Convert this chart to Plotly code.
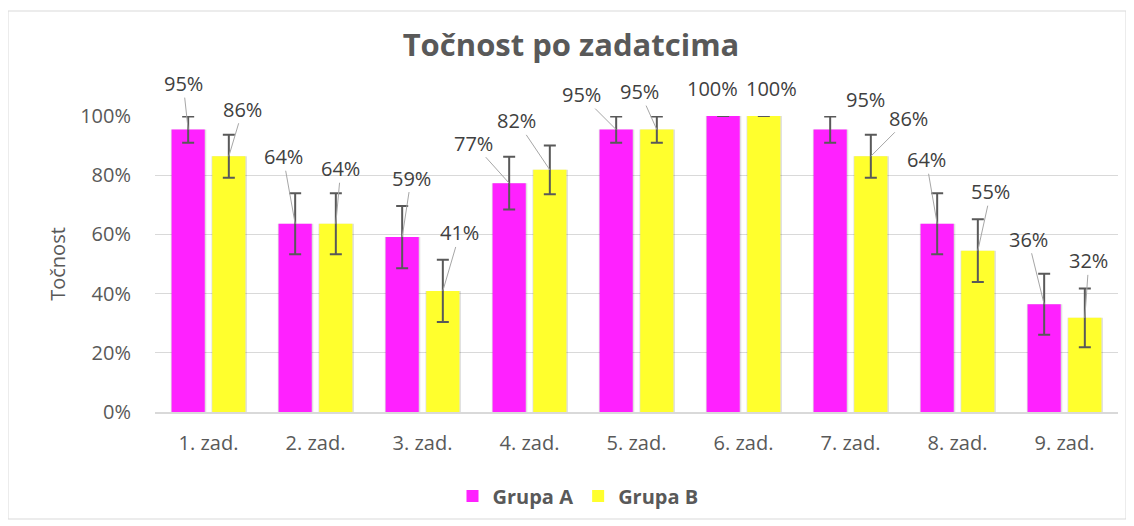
import plotly.graph_objects as go

# ---- data ----
categories = ["1. zad.", "2. zad.", "3. zad.", "4. zad.", "5. zad.", "6. zad.", "7. zad.", "8. zad.", "9. zad."]
grupa_a = [0.954, 0.636, 0.591, 0.773, 0.954, 1.0, 0.954, 0.636, 0.364]
grupa_b = [0.864, 0.636, 0.409, 0.818, 0.954, 1.0, 0.864, 0.545, 0.318]
err_a = [0.044, 0.103, 0.105, 0.089, 0.044, 0.0, 0.044, 0.103, 0.103]
err_b = [0.073, 0.103, 0.105, 0.082, 0.044, 0.0, 0.073, 0.106, 0.099]
y_ticks = [0, 0.2, 0.4, 0.6, 0.8, 1.0]

# ---- styles ----
COL_A = "#FF21FF"
COL_B = "#FFFF2D"
TXT = "#595959"
FONT = "Open Sans"
FS = 20
W, H = 1126, 518  # page body has an 8px margin
BAR_W = 0.31          # bar width in category units
OFF_A, OFF_B = -0.345, 0.035   # left edge of each bar relative to category centre
SH_PAD = 0.022        # shadow extra width (category units)

# label placement offsets (pixels, relative to bar top), and leader-line visibility
lab_a_off = [(-5, -46), (-12, -67), (9, -59), (-36, -40), (-35, -35), (-11, -28), (35, -30), (-11, -64), (-16, -65)]
lab_b_off = [(14, -47), (5, -55), (17, -58), (-33, -49), (-17, -38), (8, -28), (38, -38), (13, -59), (4, -57)]
lead_a = [True, True, True, True, True, False, False, True, True]
lead_b = [True, True, True, True, True, False, True, True, True]

fig = go.Figure()
# soft shadows behind the bars
for vals, off in ((grupa_a, OFF_A), (grupa_b, OFF_B)):
    fig.add_trace(go.Bar(
        x=categories, y=[v + 0.008 for v in vals], base=-0.008, width=BAR_W + SH_PAD,
        offset=off - SH_PAD / 3, marker=dict(color="rgba(0,0,0,0.12)", line=dict(width=0)),
        showlegend=False, hoverinfo="skip",
    ))
fig.add_trace(go.Bar(
    name="Grupa A", x=categories, y=grupa_a, width=BAR_W, offset=OFF_A,
    marker=dict(color=COL_A, line=dict(width=0)),
    error_y=dict(type="data", array=err_a, color=TXT, thickness=2, width=6),
))
fig.add_trace(go.Bar(
    name="Grupa B", x=categories, y=grupa_b, width=BAR_W, offset=OFF_B,
    marker=dict(color=COL_B, line=dict(width=0)),
    error_y=dict(type="data", array=err_b, color=TXT, thickness=2, width=6),
))

annotations = []
for series, offs, leads, off in ((grupa_a, lab_a_off, lead_a, OFF_A), (grupa_b, lab_b_off, lead_b, OFF_B)):
    for i, v in enumerate(series):
        dx, dy = offs[i]
        annotations.append(dict(
            x=i + off + BAR_W / 2, y=v, xref="x", yref="y",
            text=f"{v:.0%}", showarrow=True, ax=dx, ay=dy, axref="pixel", ayref="pixel",
            arrowhead=0, arrowwidth=1,
            arrowcolor="#A6A6A6" if leads[i] else "rgba(0,0,0,0)",
            font=dict(family=FONT, size=FS, color="#404040"),
            borderpad=0,
        ))

# y-axis title
annotations.append(dict(
    x=-0.102, y=0.5, xref="paper", yref="paper", text="Točnost", textangle=-90,
    showarrow=False, font=dict(family=FONT, size=FS, color=TXT), xanchor="center", yanchor="middle",
))

fig.update_layout(
    width=W, height=H,
    margin=dict(l=147, r=16, t=108, b=114),
    paper_bgcolor="white", plot_bgcolor="white",
    barmode="overlay",
    title=dict(text="<b>Točnost po zadatcima</b>", x=0.5, xref="container", xanchor="center",
               y=1 - 37 / H, yref="container", yanchor="middle",
               font=dict(family=FONT, size=31, color=TXT)),
    font=dict(family=FONT, size=FS, color=TXT),
    xaxis=dict(showgrid=False, showline=True, linecolor="#D9D9D9", linewidth=1.5,
               ticks="", tickfont=dict(family=FONT, size=FS, color=TXT), ticklabelstandoff=12),
    yaxis=dict(range=[0, 1], tickvals=y_ticks, tickformat=".0%", showgrid=True, gridcolor="#D9D9D9",
               gridwidth=1, zeroline=False, showline=False, ticks="",
               tickfont=dict(family=FONT, size=FS, color=TXT), ticklabelstandoff=23),
    legend=dict(orientation="h", xref="container", yref="container", x=570 / W, y=1 - 488 / H,
                xanchor="center", yanchor="middle", font=dict(family=FONT, size=FS, color=TXT, weight="bold"),
                itemwidth=30, traceorder="normal"),
    annotations=annotations,
    shapes=[dict(type="rect", xref="paper", yref="paper",
                 x0=(0 - 147) / 963, x1=(1118 - 147) / 963,
                 y0=(404 - 511) / 296, y1=(404 - 3) / 296,
                 line=dict(color="#D9D9D9", width=1), layer="below")],
)

fig.write_html("out.html")
